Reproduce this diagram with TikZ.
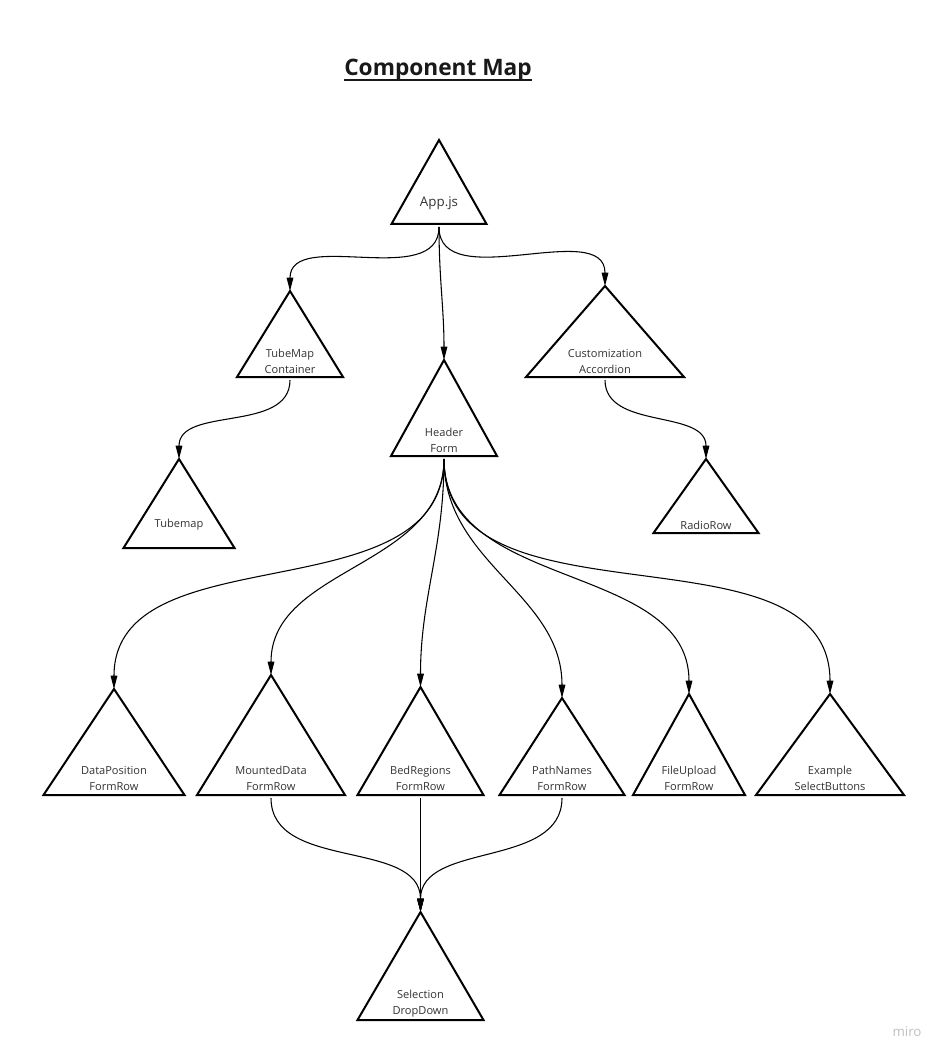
\documentclass[tikz,border=0pt]{standalone}
\usepackage{fontspec}
\setmainfont{Open Sans}
\usetikzlibrary{arrows.meta}

\begin{document}
\begin{tikzpicture}[x=0.75pt,y=-0.75pt,
    comp/.style={draw,line width=1.5pt,line join=miter},
    lbl/.style={align=center,font=\fontsize{8.3}{12}\selectfont,text=black!80,inner sep=0pt},
    link/.style={-{Triangle[length=10pt,width=5pt]},line width=0.8pt}]
    \useasboundingbox (0,0) rectangle (944,1059);
    %title
    \node[font=\fontsize{17}{20}\selectfont\bfseries,text=black!90,anchor=base,inner sep=0pt] (title) at (438,76) {Component Map};
    \draw[line width=1pt,black!90] ([yshift=-3pt]title.base west) -- ([yshift=-3pt]title.base east);
    %draw components
    \foreach \nm/\ax/\ay/\hw/\by/\ty/\txt in {%
        app/439/140/47.5/224/203/{\fontsize{10}{12}\selectfont App.js},
        tmc/290/291/53/377/361/{TubeMap\\Container},
        hdr/444/360/53/456/440/{Header\\Form},
        cust/605/286/79/377/361/{Customization\\Accordion},
        tube/179/459/55.5/548/525/{Tubemap},
        radio/706/459/52.5/533/525/{RadioRow},
        dpos/114/689/70.5/795/778/{DataPosition\\FormRow},
        mnt/271/675/74/795/778/{MountedData\\FormRow},
        bed/420.5/687/63/795/778/{BedRegions\\FormRow},
        pnames/562/698/62.5/795/778/{PathNames\\FormRow},
        fup/689/694/56/795/778/{FileUpload\\FormRow},
        exsel/830/694/74/795/778/{Example\\SelectButtons},
        seldd/420.5/912/63/1020/1004/{Selection\\DropDown}}
        {%
            \draw[comp] (\ax,\ay) -- (\ax+\hw,\by) -- (\ax-\hw,\by) -- cycle;
            \coordinate (\nm-top) at (\ax,\ay);
            \coordinate (\nm-bot) at (\ax,\by+3);
            \node[lbl] (\nm) at (\ax,\ty) {\txt};
        }
    %draw links
    \draw[link] (app-bot) to[out=-90,in=90] (tmc-top);
    \draw[link] (app-bot) to[out=-90,in=90] (hdr-top);
    \draw[link] (app-bot) to[out=-90,in=90] (cust-top);
    \draw[link] (tmc-bot) to[out=-90,in=90] (tube-top);
    \draw[link] (cust-bot) to[out=-90,in=90] (radio-top);
    \foreach \kid in {dpos,mnt,bed,pnames,fup,exsel}
        {%
            \draw[link] (hdr-bot) to[out=-90,in=90] (\kid-top);
        }
    \foreach \kid in {mnt,bed,pnames}
        {%
            \draw[link] (\kid-bot) to[out=-90,in=90] (seldd-top);
        }
    \node[font=\fontsize{10}{12}\selectfont,text=black!25] (miro) at (907,1032) {miro};
\end{tikzpicture}
\end{document}
